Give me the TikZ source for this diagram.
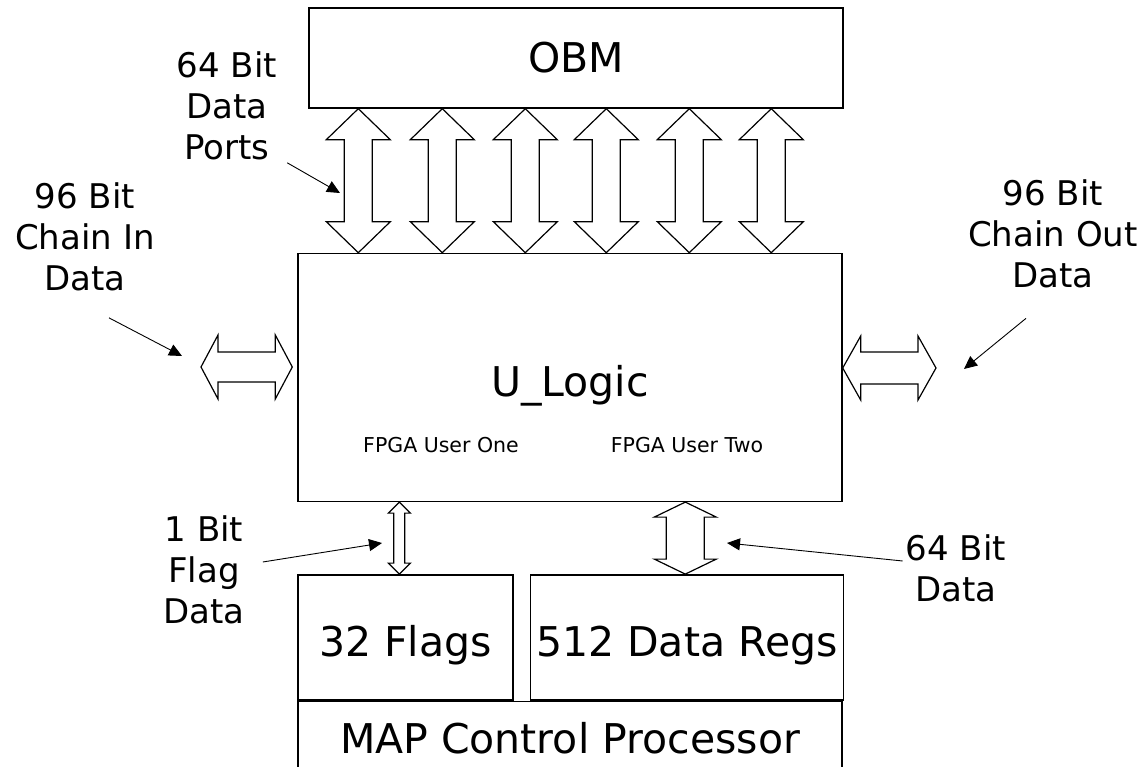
\documentclass[tikz,border=0pt]{standalone}
\usepackage{fontspec}
\setmainfont{DejaVu Sans}
\usetikzlibrary{arrows.meta,positioning,calc}

% hollow double bus arrows: ends, head half width, shaft half width, head length
\newcommand{\vbus}[5]{\draw[bus] let \p1=(#1), \p2=(#2) in (\x1,\y1) --
	(\x1+#3pt,\y1-#5pt) -- (\x1+#4pt,\y1-#5pt) -- (\x1+#4pt,\y2+#5pt) --
	(\x1+#3pt,\y2+#5pt) -- (\x1,\y2) -- (\x1-#3pt,\y2+#5pt) --
	(\x1-#4pt,\y2+#5pt) -- (\x1-#4pt,\y1-#5pt) -- (\x1-#3pt,\y1-#5pt) --
	cycle;}
\newcommand{\hbus}[5]{\draw[bus] let \p1=(#1), \p2=(#2) in (\x1,\y1) --
	(\x1+#5pt,\y1+#3pt) -- (\x1+#5pt,\y1+#4pt) -- (\x2-#5pt,\y1+#4pt) --
	(\x2-#5pt,\y1+#3pt) -- (\x2,\y1) -- (\x2-#5pt,\y1-#3pt) --
	(\x2-#5pt,\y1-#4pt) -- (\x1+#5pt,\y1-#4pt) -- (\x1+#5pt,\y1-#3pt) --
	cycle;}

\begin{document}
\begin{tikzpicture}[x=1pt, y=-1pt, block/.style = {rectangle, draw,
			line width=1.4pt, inner sep=0pt, text height=38pt, text depth=0pt,
			font=\fontsize{41}{49}\selectfont}, bus/.style = {draw, line width=1.2pt,
			fill=white}, pointer/.style = {-{Triangle[length=13pt, width=12pt]},
			line width=0.9pt}, lbl/.style = {align=center, inner sep=0pt,
			font=\fontsize{34}{41}\selectfont}, small/.style = {inner sep=0pt,
			font=\fontsize{20.5}{24}\selectfont}
	]
	\useasboundingbox (0,0) rectangle (1146,767);
	\clip (0,0) rectangle (1146,767);

	% Nodes
	\node [block, minimum width=534pt, minimum height=100pt, text height=30pt]
	(obm) at (576,58) {OBM}; \node [block, below=144pt of obm, xshift=-6pt,
		minimum width=544pt, minimum height=248pt] (ulogic) {U\_Logic};
	\node [small, anchor=base] (user1) at (441,452) {FPGA User One};
	\node [small, anchor=base] (user2) at (687,452) {FPGA User Two};

	\node [block, below=72pt of ulogic.south west, anchor=north west,
		minimum width=215pt, minimum height=125pt] (flags) {32 Flags};
	\node [block, right=16pt of flags.north east, anchor=north west,
		minimum width=313pt, minimum height=125pt] (regs) {512 Data Regs};
	\node [block, below=0pt of flags.south west, anchor=north west,
		minimum width=544pt, minimum height=80pt, text height=25pt] (map) {MAP
		Control Processor};

	% Labels
	\node [lbl] (portslbl) at (227,105.5) {64 Bit\\Data\\Ports};
	\node [lbl] (chaininlbl) at (85,236.5) {96 Bit\\Chain In\\Data};
	\node [lbl] (chainoutlbl) at (1053,234) {96 Bit\\Chain Out\\Data};
	\node [lbl] (flaglbl) at (204,569.5) {1 Bit\\Flag\\Data};
	\node [lbl] (datalbl) at (956,568) {64 Bit\\Data};

	% Buses
	\foreach \dx in {50pt,134pt,217pt,298pt,381pt,463pt}
	\vbus{[xshift=\dx]obm.south west}{ulogic.north}{32}{14}{31};
	\coordinate (cin) at (201,367); \coordinate (cout) at (936,368);
	\hbus{cin}{[xshift=-5pt]ulogic.west}{32}{15}{17};
	\hbus{ulogic.east |- cout}{cout}{32}{16}{18};
	\vbus{[xshift=102pt]ulogic.south west}{flags.north}{11}{5.5}{11};
	\vbus{[xshift=388pt]ulogic.south west}{regs.north}{31}{19}{15};

	% Arrows
	\coordinate (portstip) at (340,193); \coordinate (cintip) at (182,356);
	\coordinate (couttip) at (964,369); \coordinate (flagtip) at (382,543);
	\coordinate (datatip) at (727,543);
	\draw [pointer] ([shift={(10pt,-3pt)}]portslbl.south east) -- (portstip);
	\draw [pointer] ([shift={(24pt,-27pt)}]chaininlbl.south) -- (cintip);
	\draw [pointer] ([shift={(-27pt,-30pt)}]chainoutlbl.south) -- (couttip);
	\draw [pointer] ([shift={(18pt,7.5pt)}]flaglbl.east) -- (flagtip);
	\draw [pointer] ([shift={(-3pt,7pt)}]datalbl.west) -- (datatip);
\end{tikzpicture}
\end{document}
